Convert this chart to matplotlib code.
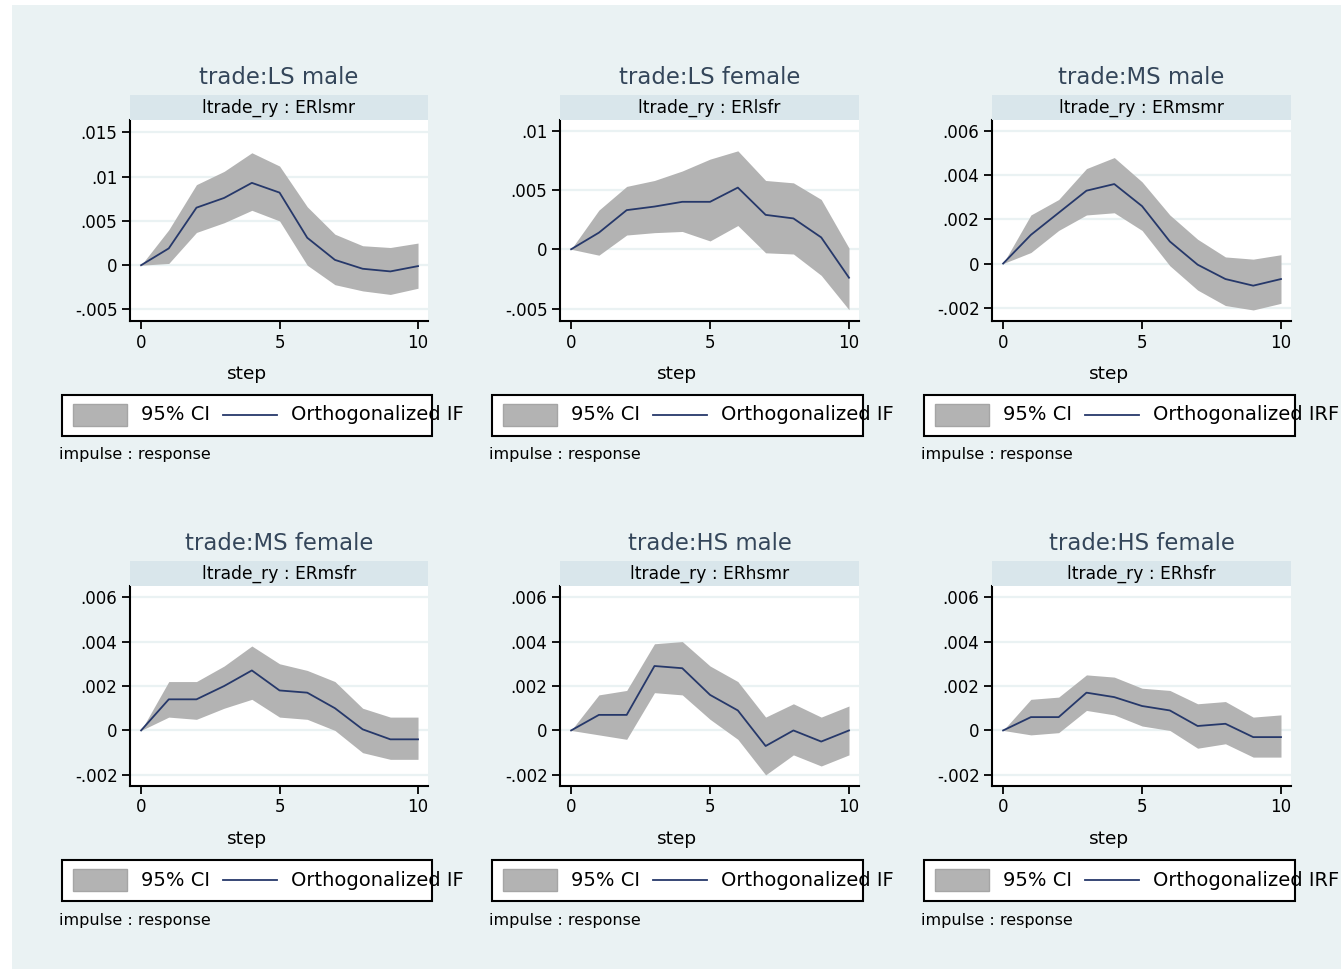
import numpy as np, matplotlib
matplotlib.use("Agg"); import matplotlib.pyplot as plt
from matplotlib.patches import Rectangle
from matplotlib.lines import Line2D
from matplotlib.ticker import FuncFormatter

W, H = 1341, 971
steps = list(range(11))

titles = ["trade:LS male", "trade:LS female", "trade:MS male",
          "trade:MS female", "trade:HS male", "trade:HS female"]
subtitles = ["ltrade_ry : ERlsmr", "ltrade_ry : ERlsfr", "ltrade_ry : ERmsmr",
             "ltrade_ry : ERmsfr", "ltrade_ry : ERhsmr", "ltrade_ry : ERhsfr"]
ci_label = "95% CI"
irf_labels = ["Orthogonalized IF", "Orthogonalized IF", "Orthogonalized IRF"] * 2

# orthogonalized irf + 95% band
irf_ls_male = [0, .0019, .0065, .0076, .0093, .0082, .0031, .0006, -.0004, -.0007, -.0001]
lo_ls_male  = [0, .0002, .0037, .0048, .0062, .0050, .0000, -.0022, -.0029, -.0033, -.0026]
hi_ls_male  = [0, .0040, .0091, .0106, .0127, .0112, .0066, .0035, .0022, .0020, .0025]

irf_ls_female = [0, .0014, .0033, .0036, .0040, .0040, .0052, .0029, .0026, .0010, -.0024]
lo_ls_female  = [0, -.0005, .0012, .0014, .0015, .0007, .0020, -.0003, -.0004, -.0022, -.0051]
hi_ls_female  = [0, .0033, .0053, .0058, .0066, .0076, .0083, .0058, .0056, .0042, .0001]

irf_ms_male = [0, .0013, .0023, .0033, .0036, .0026, .0010, -.00005, -.0007, -.0010, -.0007]
lo_ms_male  = [0, .0005, .0015, .0022, .0023, .0015, -.0001, -.0012, -.0019, -.0021, -.0018]
hi_ms_male  = [0, .0022, .0029, .0043, .0048, .0037, .0022, .0011, .0003, .0002, .0004]

irf_ms_female = [0, .0014, .0014, .0020, .0027, .0018, .0017, .0010, .00005, -.0004, -.0004]
lo_ms_female  = [0, .0006, .0005, .0010, .0014, .0006, .0005, .0000, -.0010, -.0013, -.0013]
hi_ms_female  = [0, .0022, .0022, .0029, .0038, .0030, .0027, .0022, .0010, .0006, .0006]

irf_hs_male = [0, .0007, .0007, .0029, .0028, .0016, .0009, -.0007, .0000, -.0005, .0000]
lo_hs_male  = [0, -.0002, -.0004, .0017, .0016, .0005, -.0004, -.0020, -.0011, -.0016, -.0011]
hi_hs_male  = [0, .0016, .0018, .0039, .0040, .0029, .0022, .0006, .0012, .0006, .0011]

irf_hs_female = [0, .0006, .0006, .0017, .0015, .0011, .0009, .0002, .0003, -.0003, -.0003]
lo_hs_female  = [0, -.0002, -.0001, .0009, .0007, .0002, .0000, -.0008, -.0006, -.0012, -.0012]
hi_hs_female  = [0, .0014, .0015, .0025, .0024, .0019, .0018, .0012, .0013, .0006, .0007]

yticks_ls_male = [-.005, 0, .005, .01, .015]
yticks_ls_female = [-.005, 0, .005, .01]
yticks_small = [-.002, 0, .002, .004, .006]

panels = [
    (irf_ls_male, lo_ls_male, hi_ls_male, yticks_ls_male, (-0.0063, 0.0164)),
    (irf_ls_female, lo_ls_female, hi_ls_female, yticks_ls_female, (-0.00605, 0.0109)),
    (irf_ms_male, lo_ms_male, hi_ms_male, yticks_small, (-0.0026, 0.0065)),
    (irf_ms_female, lo_ms_female, hi_ms_female, yticks_small, (-0.0025, 0.0065)),
    (irf_hs_male, lo_hs_male, hi_hs_male, yticks_small, (-0.0025, 0.0065)),
    (irf_hs_female, lo_hs_female, hi_hs_female, yticks_small, (-0.0025, 0.0065)),
]

BG = "#eaf2f3"; STRIP = "#d9e6eb"; BAND = "#b3b3b3"; LINE = "#26386a"; TITLE = "#34465a"

def stata_fmt(v, pos=None):
    s = f"{v:g}"
    return s.replace("0.", ".") if s not in ("0", "-0") else "0"

fig = plt.figure(figsize=(W / 100, H / 100), dpi=100, facecolor="white")
fx = lambda x: x / W
fy = lambda y: 1 - y / H

def frect(x0, y0, x1, y1, **kw):
    fig.patches.append(Rectangle((fx(x0), fy(y1)), (x1 - x0) / W, (y1 - y0) / H,
                                 transform=fig.transFigure, figure=fig, **kw))

frect(12, 5, W, H - 2, facecolor=BG, edgecolor="none", zorder=-5)

col_l = [130, 560, 992]; col_r = [428, 859, 1291]
row_t = [120, 586]; row_b = [321, 786]

for i, (irf, lo, hi, yt, yl) in enumerate(panels):
    r, c = divmod(i, 3)
    L, R, T, B = col_l[c], col_r[c], row_t[r], row_b[r]
    ax = fig.add_axes([fx(L), fy(B), (R - L) / W, (B - T) / H])
    ax.set_zorder(1)
    ax.set_facecolor("white")
    ax.fill_between(steps, lo, hi, color=BAND, lw=0, zorder=2)
    ax.plot(steps, irf, color=LINE, lw=1.3, zorder=3)
    ax.set_xlim(-0.4, 10.36); ax.set_ylim(*yl)
    ax.set_xticks([0, 5, 10]); ax.set_yticks(yt)
    ax.yaxis.set_major_formatter(FuncFormatter(stata_fmt))
    ax.grid(axis="y", color=BG, lw=1.6); ax.set_axisbelow(True)
    for s in ("top", "right"): ax.spines[s].set_visible(False)
    for s in ("left", "bottom"): ax.spines[s].set_linewidth(1.5)
    ax.tick_params(length=6, width=1.3, labelsize=12, pad=3)

    cx = (L + R) / 2
    frect(L, T - 25, R, T, facecolor=STRIP, edgecolor="none", zorder=1)
    fig.text(fx(cx), fy(T - 12.5), subtitles[i], ha="center", va="center", fontsize=12.3)
    fig.text(fx(cx), fy(T - 43), titles[i], ha="center", va="center", fontsize=16.4, color=TITLE)
    fig.text(fx((L - 68 + R + 4) / 2), fy(B + 53), "step", ha="center", va="center", fontsize=13.3)
    # legend box
    frect(L - 68, B + 74, R + 4, B + 115, facecolor="white", edgecolor="black", lw=1.5, zorder=2)
    frect(L - 57, B + 83, L - 3, B + 105, facecolor=BAND, edgecolor="#a5a5a5", lw=1, zorder=3)
    fig.text(fx(L + 11), fy(B + 94), ci_label, ha="left", va="center", fontsize=14, zorder=4)
    fig.lines.append(Line2D([fx(L + 93), fx(L + 147)], [fy(B + 94)] * 2, color=LINE, lw=1.3,
                            transform=fig.transFigure, figure=fig, zorder=4))
    fig.text(fx(L + 161), fy(B + 94), irf_labels[i], ha="left", va="center", fontsize=14, zorder=4)
    fig.text(fx(L - 71), fy(B + 134), "impulse : response", ha="left", va="center", fontsize=11.5)

plt.savefig("out.png", dpi=100, facecolor="white")
